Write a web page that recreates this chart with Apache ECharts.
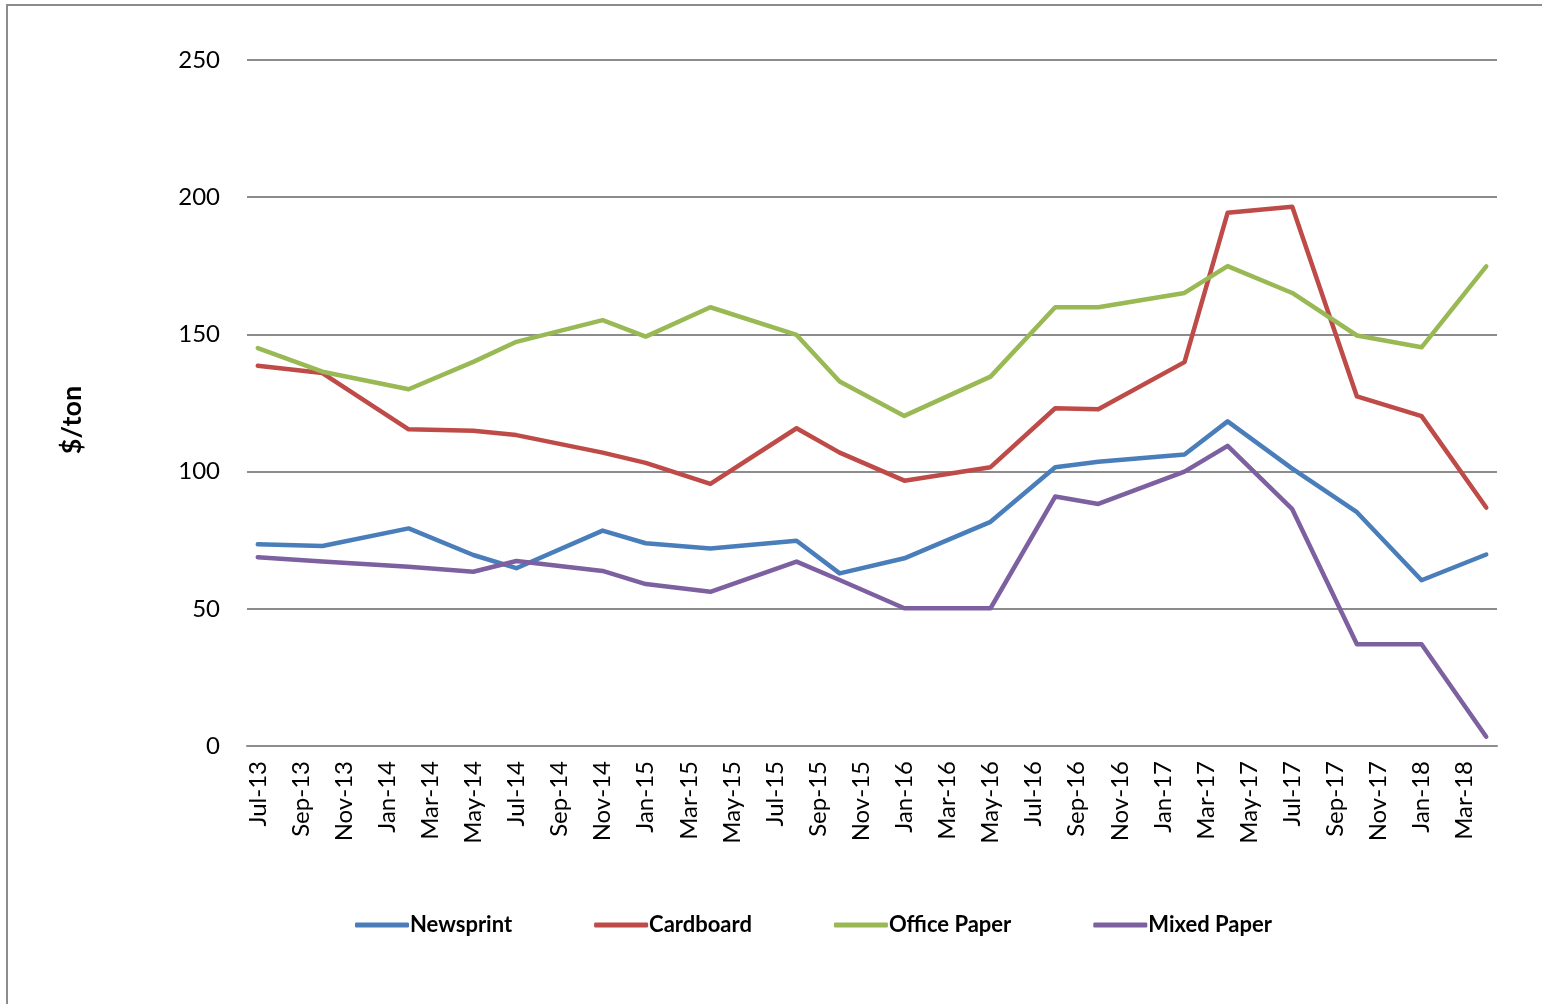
<!DOCTYPE html>
<html>
<head>
<meta charset="utf-8">
<script src="https://cdn.jsdelivr.net/npm/echarts@6/dist/echarts.min.js"></script>
<style>
html,body{margin:0;padding:0;background:#fff;}
#chart{width:1542px;height:1004px;}
</style>
</head>
<body>
<div id="chart"></div>
<script>
// Monthly category axis (labels shown every other month)
const months = [
  'Jul-13','Aug-13','Sep-13','Oct-13','Nov-13','Dec-13',
  'Jan-14','Feb-14','Mar-14','Apr-14','May-14','Jun-14','Jul-14','Aug-14','Sep-14','Oct-14','Nov-14','Dec-14',
  'Jan-15','Feb-15','Mar-15','Apr-15','May-15','Jun-15','Jul-15','Aug-15','Sep-15','Oct-15','Nov-15','Dec-15',
  'Jan-16','Feb-16','Mar-16','Apr-16','May-16','Jun-16','Jul-16','Aug-16','Sep-16','Oct-16','Nov-16','Dec-16',
  'Jan-17','Feb-17','Mar-17','Apr-17','May-17','Jun-17','Jul-17','Aug-17','Sep-17','Oct-17','Nov-17','Dec-17',
  'Jan-18','Feb-18','Mar-18','Apr-18'
];
// Months at which prices were observed
const pointMonths = ['Jul-13','Oct-13','Feb-14','May-14','Jul-14','Nov-14','Jan-15','Apr-15','Aug-15','Oct-15',
                     'Jan-16','May-16','Aug-16','Oct-16','Feb-17','Apr-17','Jul-17','Oct-17','Jan-18','Apr-18'];
const newsprint   = [73.5, 72.9, 79.3, 69.6, 64.8, 78.5, 73.9, 72.0, 74.8, 62.9, 68.4, 81.7, 101.6, 103.6, 106.2, 118.3, 101.1, 85.2, 60.4, 69.8];
const cardboard   = [138.6, 135.9, 115.4, 114.9, 113.3, 106.9, 103.2, 95.5, 115.8, 106.9, 96.7, 101.6, 123.1, 122.7, 139.9, 194.3, 196.5, 127.4, 120.2, 86.9];
const officePaper = [145.0, 136.4, 130.0, 140.0, 147.3, 155.2, 149.2, 159.9, 149.8, 132.8, 120.3, 134.6, 159.9, 159.9, 165.1, 174.9, 165.1, 149.6, 145.3, 174.8];
const mixedPaper  = [68.8, 67.2, 65.3, 63.5, 67.4, 63.8, 59.0, 56.2, 67.2, 60.5, 50.2, 50.2, 90.9, 88.2, 100.0, 109.4, 86.3, 37.1, 37.1, 3.4];
const seriesNames = ['Newsprint','Cardboard','Office Paper','Mixed Paper'];
const seriesColors = ['#4A7EBB','#BE4B48','#98B954','#7D60A0'];
const yTicks = {min: 0, max: 250, interval: 50};

function toMonthly(vals) {
  return months.map(m => {
    const k = pointMonths.indexOf(m);
    return k >= 0 ? vals[k] : null;
  });
}
const allVals = [newsprint, cardboard, officePaper, mixedPaper];

const chart = echarts.init(document.getElementById('chart'));
const font = 'Lato, "Open Sans", sans-serif';
chart.setOption({
  animation: false,
  backgroundColor: '#ffffff',
  textStyle: {fontFamily: font},
  grid: {left: 247, right: 45, top: 60, bottom: 258, containLabel: false},
  graphic: [
    {type: 'rect', shape: {x: 7, y: 5, width: 1560, height: 1030},
     style: {fill: 'none', stroke: '#8c8c8c', lineWidth: 2}, silent: true},
    {type: 'text', x: 72, y: 420, rotation: Math.PI / 2,
     style: {text: '$/ton', font: 'bold 27px ' + font, fill: '#000', textAlign: 'center', textVerticalAlign: 'middle'}}
  ],
  legend: {
    left: 350, top: 909,
    itemWidth: 54, itemHeight: 5, itemGap: 82,
    icon: 'roundRect',
    textStyle: {fontFamily: font, fontWeight: 'bold', fontSize: 22, color: '#000', padding: [0, 0, 0, -4]},
    data: seriesNames
  },
  xAxis: {
    type: 'category',
    data: months,
    boundaryGap: true,
    axisLine: {lineStyle: {color: '#8c8c8c', width: 2}},
    axisTick: {show: false},
    axisLabel: {interval: 1, rotate: 90, fontSize: 24, color: '#000', margin: 15, fontFamily: font},
    splitLine: {show: false}
  },
  yAxis: {
    type: 'value',
    min: yTicks.min, max: yTicks.max, interval: yTicks.interval,
    axisLine: {show: false},
    axisTick: {show: false},
    axisLabel: {fontSize: 24, color: '#000', margin: 27, fontFamily: font},
    splitLine: {lineStyle: {color: '#8c8c8c', width: 2}}
  },
  series: seriesNames.map((name, i) => ({
    name: name,
    type: 'line',
    data: toMonthly(allVals[i]),
    connectNulls: true,
    showSymbol: false,
    symbol: 'none',
    lineStyle: {color: seriesColors[i], width: 4.5, join: 'round', cap: 'round'},
    itemStyle: {color: seriesColors[i]}
  }))
});
</script>
</body>
</html>
